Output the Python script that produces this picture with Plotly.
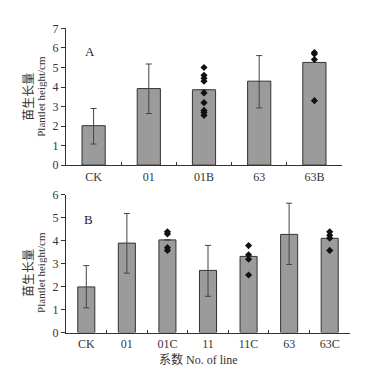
import plotly.graph_objects as go

# Panel A
cats_a = ["CK", "01", "01B", "63", "63B"]
mean_a = [2.02, 3.92, 3.86, 4.30, 5.26]
err_up_a = [0.88, 1.26, 0, 1.31, 0]
err_dn_a = [0.94, 1.28, 0, 1.37, 0]
pts_a_x = ["01B"] * 9 + ["63B"] * 4
pts_a_y = [5.0, 4.6, 4.45, 4.3, 3.7, 3.2, 2.8, 2.7, 2.55, 5.77, 5.69, 5.41, 3.3]

# Panel B
cats_b = ["CK", "01", "01C", "11", "11C", "63", "63C"]
mean_b = [1.99, 3.90, 4.04, 2.71, 3.32, 4.28, 4.11]
err_up_b = [0.93, 1.29, 0, 1.09, 0, 1.36, 0]
err_dn_b = [0.91, 1.31, 0, 1.13, 0, 1.31, 0]
pts_b_x = ["01C"] * 4 + ["11C"] * 4 + ["63C"] * 4
pts_b_y = [4.39, 4.30, 3.70, 3.58, 3.79, 3.39, 3.20, 2.51, 4.39, 4.24, 4.11, 3.58]

ylab_cn = "苗生长量"
ylab_en = "Plantlet height/cm"
xlab_cn = "系数"
xlab_en = "No. of line"

SERIF = "Liberation Serif, Times New Roman, serif"
CJK = "Noto Sans CJK SC"
BAR_COLOR = "#9b9b9b"
LINE = "#333333"

fig = go.Figure()

def add_panel(cats, mean, eu, ed, px, py, xa, ya):
    fig.add_trace(go.Bar(
        x=cats, y=mean, xaxis=xa, yaxis=ya,
        marker=dict(color=BAR_COLOR, line=dict(color=LINE, width=1)),
        error_y=dict(type="data", symmetric=False, array=eu, arrayminus=ed,
                     color="#444444", thickness=1, width=3),
        showlegend=False, hoverinfo="skip"))
    fig.add_trace(go.Scatter(
        x=px, y=py, xaxis=xa, yaxis=ya, mode="markers",
        marker=dict(symbol="diamond", size=5.5, color="#111111"),
        showlegend=False, hoverinfo="skip"))

add_panel(cats_a, mean_a, err_up_a, err_dn_a, pts_a_x, pts_a_y, "x", "y")
add_panel(cats_b, mean_b, err_up_b, err_dn_b, pts_b_x, pts_b_y, "x2", "y2")

W, H = 379, 371
def px_x(v): return v / W
def px_y(v): return 1 - v / H

xcommon = dict(showline=True, linecolor=LINE, linewidth=1, showgrid=False,
               ticks="inside", tickson="boundaries", ticklen=3, tickcolor=LINE,
               tickfont=dict(family=SERIF, size=12, color="#333333"))
ycommon = dict(showline=True, linecolor=LINE, linewidth=1, showgrid=False,
               ticks="outside", ticklen=4, tickcolor=LINE, dtick=1, zeroline=False,
               tickfont=dict(family=SERIF, size=12, color="#333333"))

fig.update_layout(
    width=W, height=H,
    margin=dict(l=0, r=0, t=0, b=0),
    paper_bgcolor="white", plot_bgcolor="white",
    bargap=0.58,
    xaxis=dict(domain=[px_x(58), px_x(334)], anchor="y", **xcommon),
    yaxis=dict(domain=[px_y(156), px_y(14)], anchor="x", range=[0, 7], **ycommon),
    xaxis2=dict(domain=[px_x(58), px_x(342)], anchor="y2", **xcommon),
    yaxis2=dict(domain=[px_y(330), px_y(187)], anchor="x2", range=[0, 6], **ycommon),
)

for txt, x, y in (("A", 82, 38), ("B", 80, 213)):
    fig.add_annotation(xref="paper", yref="paper", x=px_x(x), y=px_y(y), text=txt,
                       showarrow=False, font=dict(family=SERIF, size=13, color="#222222"),
                       xanchor="center", yanchor="middle")

for cy in (85, 268):
    fig.add_annotation(xref="paper", yref="paper", x=px_x(20), y=px_y(cy), text=ylab_cn,
                       textangle=-90, showarrow=False,
                       font=dict(family=CJK, size=12, color="#333333"),
                       xanchor="center", yanchor="middle")
    fig.add_annotation(xref="paper", yref="paper", x=px_x(33), y=px_y(cy), text=ylab_en,
                       textangle=-90, showarrow=False,
                       font=dict(family=SERIF, size=11, color="#333333"),
                       xanchor="center", yanchor="middle")

fig.add_annotation(xref="paper", yref="paper", x=px_x(190), y=px_y(357),
                   text="<span style='font-family:Noto Sans CJK SC'>" + xlab_cn + "</span> " + xlab_en,
                   showarrow=False, font=dict(family=SERIF, size=12, color="#333333"),
                   xanchor="center", yanchor="middle")

fig.write_html("out.html")
